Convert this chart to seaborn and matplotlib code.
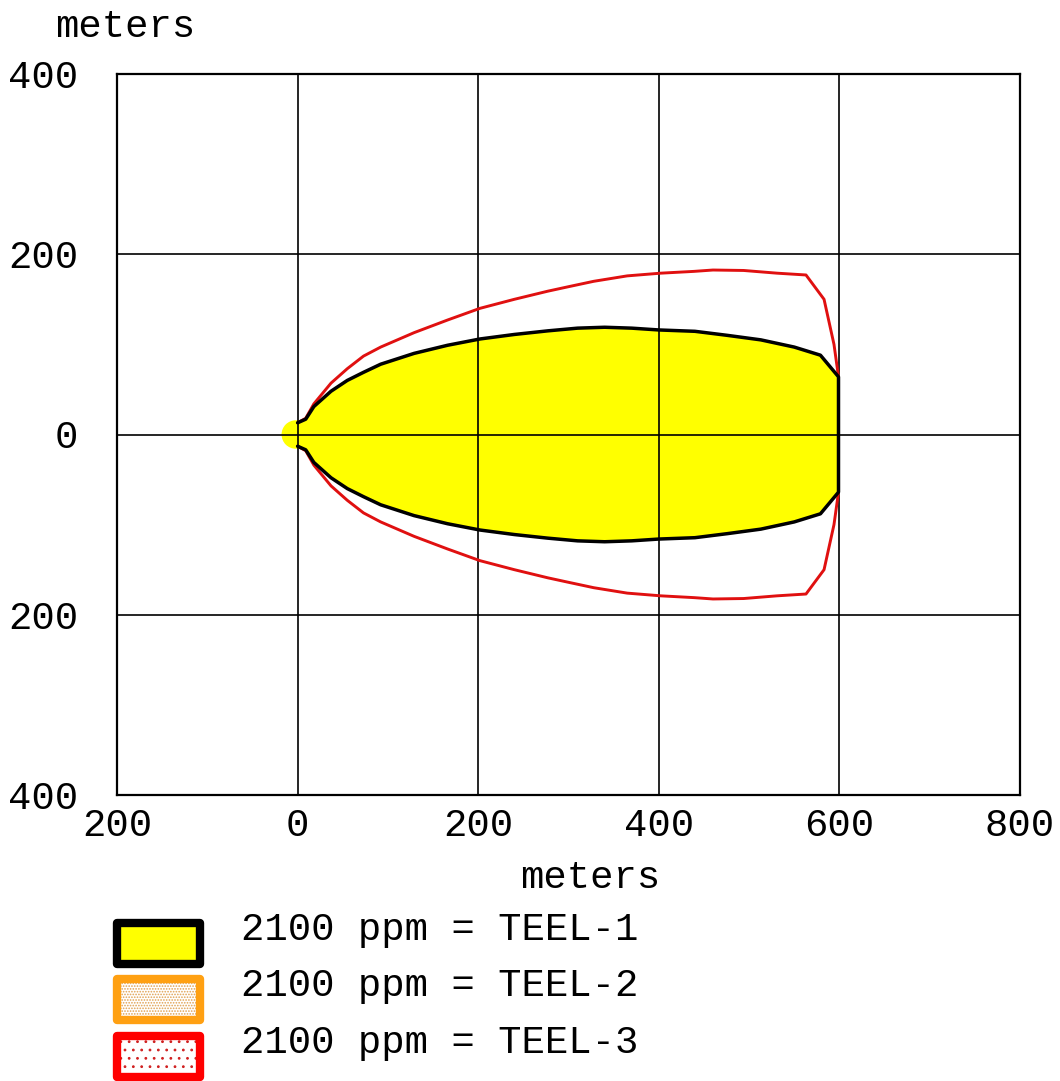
import numpy as np
import matplotlib
matplotlib.use("Agg")
import matplotlib.pyplot as plt
from matplotlib.patches import Rectangle
from matplotlib.ticker import FixedLocator, FuncFormatter
import seaborn as sns

# Downwind distance (m) and crosswind half-width (m) of each threat zone
teel1_x = [0, 9, 18, 37, 55, 73, 92, 129, 166, 202, 240, 277, 310, 340, 370,
           400, 440, 476, 513, 550, 579, 599]
teel1_y = [13, 17, 31, 48, 60, 69, 78, 90, 99, 106, 111, 115, 118, 119, 118,
           116, 114.5, 110, 105, 97, 88, 64]
teel3_x = [0, 9, 18, 37, 55, 73, 92, 129, 166, 202, 240, 277, 300, 328, 365,
           402, 439, 460, 494, 531, 563, 583, 594, 599]
teel3_y = [13, 18, 34, 57, 73, 87, 97, 113, 127, 140, 150, 159, 164, 170, 176,
           179, 181, 182.5, 182, 179, 177, 150, 100, 64]
source_x = [-2]
source_y = [0]

x_ticks = [-200, 0, 200, 400, 600, 800]
y_ticks = [-400, -200, 0, 200, 400]
legend_labels = ["2100 ppm = TEEL-1", "2100 ppm = TEEL-2", "2100 ppm = TEEL-3"]

sns.set_style("white", {"axes.edgecolor": "black"})
plt.rcParams["font.family"] = ["Liberation Mono", "DejaVu Sans Mono"]
plt.rcParams["text.color"] = "black"
plt.rcParams["xtick.color"] = "black"
plt.rcParams["ytick.color"] = "black"
plt.rcParams["hatch.linewidth"] = 0.8

W, H = 1060, 1081
fig = plt.figure(figsize=(W / 100, H / 100), dpi=100)
ax = fig.add_axes([117 / W, 1 - 795 / H, 903 / W, 721 / H])


def outline(xs, ys):
    """Mirror a half-width profile into the full footprint outline."""
    xs = np.asarray(xs, float)
    ys = np.asarray(ys, float)
    return np.concatenate([xs, xs[::-1]]), np.concatenate([ys, -ys[::-1]])


t1x, t1y = outline(teel1_x, teel1_y)
t3x, t3y = outline(teel3_x, teel3_y)

# yellow TEEL-1 footprint plus the source spot
ax.fill(t1x, t1y, color="#FFFF00", lw=0, zorder=1)
sns.scatterplot(x=source_x, y=source_y, s=420, color="#FFFF00",
                edgecolor="none", ax=ax, zorder=1)

# zone outlines
sns.lineplot(x=t3x, y=t3y, sort=False, estimator=None, color="#E01010",
             linewidth=2.1, ax=ax, zorder=3)
sns.lineplot(x=t1x, y=t1y, sort=False, estimator=None, color="black",
             linewidth=2.5, ax=ax, zorder=4)

ax.set_xlim(-200, 800)
ax.set_ylim(-400, 400)
ax.xaxis.set_major_locator(FixedLocator(x_ticks))
ax.yaxis.set_major_locator(FixedLocator(y_ticks))
absfmt = FuncFormatter(lambda v, p: f"{abs(int(v))}")
ax.xaxis.set_major_formatter(absfmt)
ax.yaxis.set_major_formatter(absfmt)
ax.tick_params(axis="both", length=0, labelsize=28)
ax.tick_params(axis="x", pad=9)
ax.tick_params(axis="y", pad=28)
ax.grid(True, color="black", linewidth=1.2)
ax.set_axisbelow(False)
for sp in ax.spines.values():
    sp.set_visible(True)
    sp.set_color("black")
    sp.set_linewidth(1.6)
ax.set_xlabel("")
ax.set_ylabel("")

fig.text(125 / W, 1 - 27 / H, "meters", ha="center", va="center", fontsize=28)
fig.text(590 / W, 1 - 878 / H, "meters", ha="center", va="center", fontsize=28)

# legend swatches
swatches = [
    dict(face="#FFFF00", edge="black", hatch=None, hatch_col=None),
    dict(face="white", edge="#FFA012", hatch="......", hatch_col="#E0A050"),
    dict(face="white", edge="#FF0000", hatch="..", hatch_col="#D02020"),
]
rows_top = [923, 979, 1036]
box_h = 41
for top, sw, label in zip(rows_top, swatches, legend_labels):
    x0, y0 = 117 / W, 1 - (top + box_h) / H
    w, h = 83 / W, box_h / H
    fig.add_artist(Rectangle((x0, y0), w, h, transform=fig.transFigure,
                             facecolor=sw["face"], edgecolor="none", lw=0))
    if sw["hatch"]:
        fig.add_artist(Rectangle((x0, y0), w, h, transform=fig.transFigure,
                                 facecolor="none", edgecolor=sw["hatch_col"],
                                 hatch=sw["hatch"], lw=0))
    fig.add_artist(Rectangle((x0, y0), w, h, transform=fig.transFigure,
                             facecolor="none", edgecolor=sw["edge"], lw=6,
                             joinstyle="round"))
    fig.text(241 / W, 1 - (top + 7) / H, label, ha="left", va="center",
             fontsize=28)

fig.savefig("out.png", dpi=100)
